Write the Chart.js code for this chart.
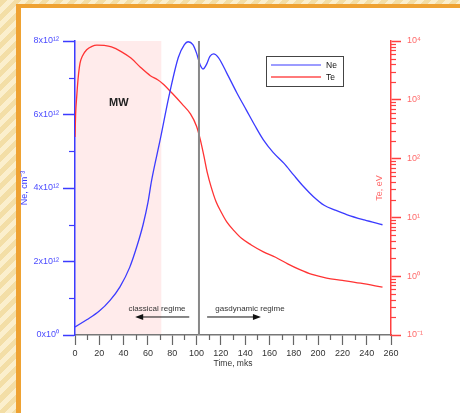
<!DOCTYPE html>
<html>
<head>
<meta charset="utf-8">
<title>Ne and Te vs time</title>
<script src="https://cdn.jsdelivr.net/npm/chart.js@4.4.1/dist/chart.umd.min.js"></script>
<style>
  html, body { margin: 0; padding: 0; }
  body {
    width: 460px; height: 413px; overflow: hidden; position: relative;
    background: repeating-linear-gradient(135deg, #f3dea6 0px, #f3dea6 5px, #fbefcd 5px, #fbefcd 10px);
  }
  #panel {
    position: absolute; left: 16px; top: 4px; width: 460px; height: 420px;
    background: #fff;
    border-left: 5px solid #efa232; border-top: 4px solid #efa232;
  }
  #chart { position: absolute; left: 0; top: 0; }
</style>
</head>
<body>
<div id="panel"></div>
<canvas id="chart" width="460" height="413"></canvas>
<script>
// time, mks
const neTime = [0, 10, 20, 29, 37, 45, 51, 56, 60, 63, 70, 78, 85, 90, 93, 97, 100, 103, 105.5, 108,
  111, 114, 118, 125, 133, 141, 148, 155, 163, 172, 180, 188, 196, 205, 214, 224, 238, 253];
// Ne, x10^12 cm^-3
const neValues = [0.22, 0.42, 0.65, 0.95, 1.31, 1.84, 2.42, 3.0, 3.6, 4.2, 5.3, 6.6, 7.55, 7.9, 7.98, 7.9, 7.67, 7.35, 7.24, 7.35,
  7.58, 7.65, 7.55, 7.12, 6.6, 6.12, 5.7, 5.31, 4.97, 4.67, 4.35, 4.04, 3.77, 3.53, 3.4, 3.27, 3.13, 3.0];

const teTime = [0, 0.5, 1.4, 2.5, 4.1, 6, 9.6, 14, 18, 24, 30, 38, 46, 54, 62, 68, 72, 80, 88, 95,
  100, 103, 106, 109, 112, 116, 120, 125, 131, 137, 145, 155, 165, 175, 185, 195, 207, 220, 235, 253];
// Te, eV
const teValues = [234, 562, 1120, 2240, 4170, 5500, 7080, 8130, 8510, 8410, 7940, 6610, 5130, 3550, 2570, 2190, 1900, 1290, 851, 575,
  355, 214, 112, 56, 33, 18.6, 12.6, 8.3, 5.9, 4.4, 3.4, 2.6, 2.1, 1.62, 1.29, 1.07, 0.93, 0.85, 0.76, 0.65];

const xTicks = [0, 20, 40, 60, 80, 100, 120, 140, 160, 180, 200, 220, 240, 260];
const xMinorTicks = [10, 30, 50, 70, 90, 110, 130, 150, 170, 190, 210, 230, 250];
const neTicks = [0, 2e12, 4e12, 6e12, 8e12];
const neMinorTicks = [1e12, 3e12, 5e12, 7e12];
const teTicks = [0.1, 1, 10, 100, 1000, 10000];

// microwave pulse (shaded) and regime boundary, mks
const mwRange = [0, 71];
const regimeBoundary = 102;

const FONT = "'Liberation Sans', Arial, sans-serif";
const BLUE = '#3b3bff';
const RED = '#ff3333';

const SUP = { '0': '⁰', '1': '¹', '2': '²', '3': '³', '4': '⁴', '5': '⁵', '6': '⁶', '7': '⁷', '8': '⁸', '9': '⁹', '-': '⁻' };
function toSup(n) {
  return String(n).split('').map(c => SUP[c]).join('');
}

function arrow(ctx, x0, x1, y) {
  const dir = Math.sign(x1 - x0);
  ctx.beginPath();
  ctx.moveTo(x0, y);
  ctx.lineTo(x1 - dir * 6, y);
  ctx.stroke();
  ctx.beginPath();
  ctx.moveTo(x1, y);
  ctx.lineTo(x1 - dir * 8, y - 3);
  ctx.lineTo(x1 - dir * 8, y + 3);
  ctx.closePath();
  ctx.fill();
}

const decorPlugin = {
  id: 'decor',
  beforeDraw(chart) {
    const { ctx, chartArea: a, scales: { x } } = chart;
    const x0 = x.getPixelForValue(mwRange[0]);
    const x1 = x.getPixelForValue(mwRange[1]);
    ctx.save();
    ctx.fillStyle = '#ffebeb';
    ctx.fillRect(x0, a.top, x1 - x0, a.bottom - a.top);
    ctx.restore();
  },
  afterDatasetsDraw(chart) {
    const { ctx, chartArea: a, scales: { x, ne } } = chart;
    ctx.save();

    // regime boundary
    const bx = x.getPixelForValue(regimeBoundary);
    ctx.strokeStyle = '#888';
    ctx.lineWidth = 2;
    ctx.beginPath();
    ctx.moveTo(bx, a.top);
    ctx.lineTo(bx, a.bottom);
    ctx.stroke();

    // labels
    ctx.fillStyle = '#222';
    ctx.textAlign = 'center';
    ctx.textBaseline = 'middle';
    ctx.font = 'bold 11px ' + FONT;
    ctx.fillText('MW', x.getPixelForValue(36), ne.getPixelForValue(6.31e12));

    ctx.fillStyle = '#333';
    ctx.font = '8px ' + FONT;
    const ty = ne.getPixelForValue(0.71e12);
    ctx.fillText('classical regime', x.getPixelForValue(67.5), ty);
    ctx.fillText('gasdynamic regime', x.getPixelForValue(144), ty);

    ctx.strokeStyle = '#111';
    ctx.fillStyle = '#111';
    ctx.lineWidth = 1;
    const ay = ne.getPixelForValue(0.49e12);
    arrow(ctx, x.getPixelForValue(94), x.getPixelForValue(49.5), ay);
    arrow(ctx, x.getPixelForValue(108.7), x.getPixelForValue(153), ay);

    // legend box
    const lx = a.left + 191, ly = a.top + 15;
    ctx.fillStyle = '#fff';
    ctx.fillRect(lx, ly, 77, 30);
    ctx.strokeStyle = '#444';
    ctx.lineWidth = 1;
    ctx.strokeRect(lx + 0.5, ly + 0.5, 77, 30);
    ctx.textAlign = 'left';
    ctx.font = '8.5px ' + FONT;
    chart.data.datasets.forEach((ds, i) => {
      const yy = ly + 9 + i * 12;
      ctx.strokeStyle = ds.legendColor;
      ctx.lineWidth = ds.legendWidth;
      ctx.beginPath();
      ctx.moveTo(lx + 5, yy);
      ctx.lineTo(lx + 55, yy);
      ctx.stroke();
      ctx.fillStyle = '#111';
      ctx.fillText(ds.label, lx + 60, yy + 0.5);
    });
    ctx.restore();
  },
  afterDraw(chart) {
    const { ctx, chartArea: a, scales: { x, ne, te } } = chart;
    ctx.save();
    ctx.lineWidth = 1.2;

    ctx.strokeStyle = '#666';
    xMinorTicks.forEach(v => {
      const px = Math.round(x.getPixelForValue(v)) + 0.5;
      ctx.beginPath();
      ctx.moveTo(px, a.bottom);
      ctx.lineTo(px, a.bottom + 5);
      ctx.stroke();
    });

    ctx.strokeStyle = BLUE;
    neMinorTicks.forEach(v => {
      const py = Math.round(ne.getPixelForValue(v)) + 0.5;
      ctx.beginPath();
      ctx.moveTo(a.left, py);
      ctx.lineTo(a.left - 6, py);
      ctx.stroke();
    });

    ctx.strokeStyle = '#ff4040';
    for (let e = -1; e < 4; e++) {
      for (let m = 2; m <= 9; m++) {
        const py = Math.round(te.getPixelForValue(m * Math.pow(10, e))) + 0.5;
        ctx.beginPath();
        ctx.moveTo(a.right, py);
        ctx.lineTo(a.right + 5, py);
        ctx.stroke();
      }
    }

    // right axis title, reads bottom to top like the left one
    ctx.translate(380, (a.top + a.bottom) / 2);
    ctx.rotate(-Math.PI / 2);
    ctx.fillStyle = '#ff6b6b';
    ctx.font = '9px ' + FONT;
    ctx.textAlign = 'center';
    ctx.textBaseline = 'middle';
    ctx.fillText('Te, eV', 0, 0);
    ctx.restore();
  }
};

new Chart(document.getElementById('chart'), {
  type: 'line',
  data: {
    datasets: [
      {
        label: 'Ne',
        data: neTime.map((t, i) => ({ x: t, y: neValues[i] * 1e12 })),
        yAxisID: 'ne',
        borderColor: BLUE,
        legendColor: '#3b3bff',
        legendWidth: 1.2,
        borderWidth: 1.3,
        pointRadius: 0,
        cubicInterpolationMode: 'monotone',
      },
      {
        label: 'Te',
        data: teTime.map((t, i) => ({ x: t, y: teValues[i] })),
        yAxisID: 'te',
        borderColor: RED,
        legendColor: '#ff7a7a',
        legendWidth: 2,
        borderWidth: 1.3,
        pointRadius: 0,
        cubicInterpolationMode: 'monotone',
      },
    ],
  },
  options: {
    responsive: false,
    animation: false,
    layout: { padding: { top: 41, left: 0, right: 0, bottom: 0 } },
    plugins: {
      legend: { display: false },
      tooltip: { enabled: false },
    },
    scales: {
      x: {
        type: 'linear',
        min: 0,
        max: 260,
        afterBuildTicks: s => { s.ticks = xTicks.map(v => ({ value: v })); },
        afterFit: s => { s.height = 78; },
        ticks: { color: '#333', font: { family: FONT, size: 9 }, padding: 3, maxRotation: 0, autoSkip: false },
        grid: { drawOnChartArea: false, tickLength: 10, tickColor: '#666', tickWidth: 1.2 },
        border: { color: '#777', width: 1.5 },
        title: {
          display: true,
          text: 'Time, mks',
          color: '#333',
          font: { family: FONT, size: 8.5 },
          padding: { top: 0, bottom: 44 },
        },
      },
      ne: {
        type: 'linear',
        position: 'left',
        min: 0,
        max: 8e12,
        afterBuildTicks: s => { s.ticks = neTicks.map(v => ({ value: v })); },
        afterFit: s => { s.width = 75; },
        ticks: {
          color: '#4d4dff',
          font: { family: FONT, size: 9 },
          padding: 4,
          callback: v => v === 0 ? '0x10' + toSup(0) : (v / 1e12) + 'x10' + toSup(12),
        },
        grid: { drawOnChartArea: false, tickLength: 12, tickColor: BLUE, tickWidth: 1.5 },
        border: { color: BLUE, width: 1.5 },
        title: {
          display: true,
          text: 'Ne, cm⁻³',
          color: BLUE,
          font: { family: FONT, size: 9 },
          padding: { top: 19, bottom: 0 },
        },
      },
      te: {
        type: 'logarithmic',
        position: 'right',
        min: 0.1,
        max: 10000,
        afterBuildTicks: s => { s.ticks = teTicks.map(v => ({ value: v })); },
        afterFit: s => { s.width = 69; },
        ticks: {
          color: '#ff6b6b',
          font: { family: FONT, size: 9 },
          padding: 6,
          callback: v => '10' + toSup(Math.round(Math.log10(v))),
        },
        grid: { drawOnChartArea: false, tickLength: 10, tickColor: '#ff4040', tickWidth: 1.5 },
        border: { color: '#ff4040', width: 1.5 },
      },
    },
  },
  plugins: [decorPlugin],
});
</script>
</body>
</html>
